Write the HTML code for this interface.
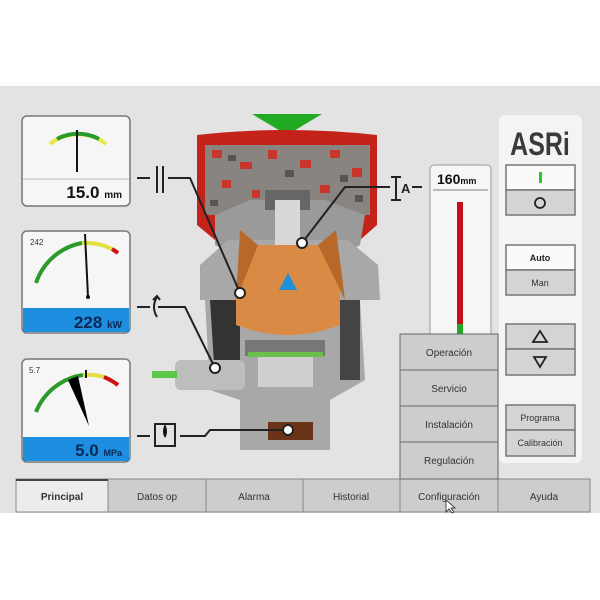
<!DOCTYPE html>
<html><head><meta charset="utf-8"><style>
body{margin:0;background:#fff;width:600px;height:600px;overflow:hidden}
svg{display:block}
text{font-family:"Liberation Sans",sans-serif}
</style></head><body>
<svg width="600" height="600" viewBox="0 0 600 600">
<rect x="0" y="86" width="600" height="427" fill="#e3e3e3"/>
<!-- Gauge 1 -->
<rect x="22" y="116" width="108" height="90" rx="5" fill="#f6f6f6" stroke="#777" stroke-width="1.5"/>
<line x1="23" y1="179" x2="129" y2="179" stroke="#bbb"/>
<path d="M50 144 A45 45 0 0 1 106 144" fill="none" stroke="#e8e84a" stroke-width="4"/>
<path d="M57 139 A45 45 0 0 1 99 139" fill="none" stroke="#2a9a2a" stroke-width="4"/>
<line x1="77" y1="130" x2="77" y2="172" stroke="#111" stroke-width="2"/>
<text x="122" y="198" font-size="17" font-weight="bold" text-anchor="end" fill="#111">15.0 <tspan font-size="10">mm</tspan></text>
<!-- Gauge 2 -->
<rect x="22" y="231" width="108" height="102" rx="5" fill="#f6f6f6" stroke="#777" stroke-width="1.5"/>
<rect x="23" y="308" width="106" height="24" fill="#1e8ee0"/>
<text x="30" y="245" font-size="8" fill="#333">242</text>
<path d="M36 283 A60 60 0 0 1 82 243" fill="none" stroke="#2a9a2a" stroke-width="4"/>
<path d="M82 243 A60 60 0 0 1 112 249" fill="none" stroke="#e0e040" stroke-width="4"/>
<path d="M112 249 A60 60 0 0 1 118 253" fill="none" stroke="#d01010" stroke-width="4"/>
<line x1="85" y1="234" x2="88" y2="297" stroke="#111" stroke-width="2"/>
<circle cx="88" cy="297" r="2" fill="#111"/>
<text x="122" y="328" font-size="17" font-weight="bold" text-anchor="end" fill="#0a2a55">228 <tspan font-size="10">kW</tspan></text>
<!-- Gauge 3 -->
<rect x="22" y="359" width="108" height="103" rx="5" fill="#f6f6f6" stroke="#777" stroke-width="1.5"/>
<rect x="23" y="437" width="106" height="24" fill="#1e8ee0"/>
<text x="29" y="373" font-size="8" fill="#333">5.7</text>
<path d="M36 412 A60 60 0 0 1 83 375" fill="none" stroke="#2a9a2a" stroke-width="4"/>
<path d="M83 375 A60 60 0 0 1 104 377" fill="none" stroke="#e0e040" stroke-width="4"/>
<path d="M104 377 A60 60 0 0 1 118 385" fill="none" stroke="#d01010" stroke-width="4"/>
<polygon points="68,380 78,376 89,426" fill="#000"/>
<line x1="86" y1="370" x2="86" y2="378" stroke="#111" stroke-width="2"/>
<text x="122" y="456" font-size="17" font-weight="bold" text-anchor="end" fill="#0a2a55">5.0 <tspan font-size="9">MPa</tspan></text>
<!-- Crusher -->
<polygon points="252,114 322,114 287,135" fill="#22aa22"/>
<path d="M197 135 Q287 125 377 135 L377 225 L360 240 L215 240 L197 225 Z" fill="#c4231a"/>
<rect x="205" y="145" width="165" height="70" fill="#8a8480"/>
<g fill="#c8352a">
<rect x="212" y="150" width="10" height="8"/><rect x="240" y="162" width="12" height="7"/><rect x="268" y="150" width="9" height="9"/>
<rect x="300" y="160" width="11" height="8"/><rect x="330" y="150" width="10" height="8"/><rect x="352" y="168" width="10" height="9"/>
<rect x="222" y="180" width="9" height="8"/><rect x="320" y="185" width="10" height="8"/><rect x="252" y="190" width="8" height="8"/>
</g>
<g fill="#555"><rect x="228" y="155" width="8" height="6"/><rect x="285" y="170" width="9" height="7"/><rect x="340" y="175" width="8" height="7"/><rect x="210" y="200" width="8" height="6"/><rect x="355" y="195" width="8" height="7"/></g>
<path d="M215 215 L250 200 L325 200 L365 215 L360 245 L325 265 L250 265 L215 245Z" fill="#9a9a9a"/>
<path d="M200 265 L228 240 L348 240 L378 265 L380 300 L360 300 L365 380 L330 400 L330 450 L240 450 L240 400 L210 390 L205 300 L200 300Z" fill="#a8a8a8"/>
<path d="M210 300 L240 300 L240 390 L215 380Z" fill="#333"/>
<path d="M340 300 L360 300 L360 380 L340 380Z" fill="#444"/>
<rect x="265" y="190" width="45" height="20" fill="#666"/>
<rect x="275" y="200" width="25" height="50" fill="#d8d8d8"/>
<path d="M258 245 L318 245 L340 285 L340 325 Q288 345 236 325 L236 285Z" fill="#d98a45"/>
<path d="M240 230 L258 245 L236 300Z" fill="#b8692a"/>
<path d="M318 245 L336 230 L345 300Z" fill="#b8692a"/>
<polygon points="288,273 279,290 297,290" fill="#1e90d8"/>
<rect x="245" y="340" width="80" height="16" fill="#777"/>
<rect x="248" y="352" width="75" height="5" fill="#6ac04a"/>
<rect x="258" y="357" width="55" height="30" fill="#cfcfcf"/>
<rect x="175" y="360" width="70" height="30" rx="6" fill="#bdbdbd"/>
<rect x="152" y="371" width="25" height="7" fill="#5cc84a"/>
<rect x="268" y="422" width="45" height="18" fill="#6b3418"/>
<!-- connectors -->
<g stroke="#222" stroke-width="2" fill="none">
<line x1="137" y1="178" x2="150" y2="178"/><line x1="157" y1="166" x2="157" y2="193"/><line x1="163" y1="166" x2="163" y2="193"/>
<polyline points="240,293 190,178 168,178"/>
<line x1="137" y1="307" x2="150" y2="307"/><path d="M157 297 q-6 10 0 20 M153 300 l4-4 l3 4"/>
<polyline points="158,307 185,307 215,368"/>
<line x1="137" y1="436" x2="150" y2="436"/><rect x="155" y="424" width="20" height="22"/>
<polyline points="180,436 205,436 210,430 285,430"/>
<polyline points="302,243 345,187 390,187"/>
<line x1="396" y1="177" x2="396" y2="200"/><line x1="391" y1="177" x2="401" y2="177"/><line x1="391" y1="200" x2="401" y2="200"/>
<line x1="412" y1="187" x2="422" y2="187"/>
</g>
<path d="M165 424 q-4 8 0 14 q4-6 0-14z" fill="#111"/>
<g fill="#fff" stroke="#222" stroke-width="2">
<circle cx="240" cy="293" r="5"/><circle cx="302" cy="243" r="5"/><circle cx="215" cy="368" r="5"/><circle cx="288" cy="430" r="5"/>
</g>
<text x="401" y="193" font-size="13" font-weight="bold" fill="#222">A</text>
<!-- bar panel -->
<rect x="430" y="165" width="61" height="175" rx="4" fill="#f6f6f6" stroke="#999"/>
<line x1="433" y1="190" x2="488" y2="190" stroke="#bbb" stroke-width="2"/>
<text x="437" y="184" font-size="14" font-weight="bold" fill="#111">160<tspan font-size="9">mm</tspan></text>
<rect x="457" y="202" width="6" height="122" fill="#c4101a"/>
<rect x="457" y="324" width="6" height="10" fill="#22aa22"/>
<!-- ASRi panel -->
<rect x="499" y="115" width="83" height="348" rx="6" fill="#f4f4f4"/>
<text x="540" y="155" font-size="32" font-weight="bold" fill="#3a3a3a" text-anchor="middle" transform="translate(540 0) scale(0.78 1) translate(-540 0)">ASRi</text>
<g stroke="#777" stroke-width="1.5">
<rect x="506" y="165" width="69" height="25" fill="#fafafa"/><rect x="506" y="190" width="69" height="25" fill="#d4d4d4"/>
<rect x="506" y="245" width="69" height="25" fill="#fafafa"/><rect x="506" y="270" width="69" height="25" fill="#d4d4d4"/>
<rect x="506" y="324" width="69" height="25" fill="#d4d4d4"/><rect x="506" y="349" width="69" height="26" fill="#d4d4d4"/>
<rect x="506" y="405" width="69" height="25" fill="#d4d4d4"/><rect x="506" y="430" width="69" height="26" fill="#d4d4d4"/>
</g>
<rect x="539" y="172" width="3" height="11" fill="#22cc22"/>
<circle cx="540" cy="203" r="5" fill="none" stroke="#222" stroke-width="1.8"/>
<text x="540" y="261" font-size="9" font-weight="bold" text-anchor="middle" fill="#222">Auto</text>
<text x="540" y="286" font-size="9" text-anchor="middle" fill="#333">Man</text>
<polygon points="540,331 533,342 547,342" fill="none" stroke="#222" stroke-width="1.8"/>
<polygon points="534,357 546,357 540,367" fill="none" stroke="#222" stroke-width="1.8"/>
<text x="540" y="421" font-size="9" text-anchor="middle" fill="#333">Programa</text>
<text x="540" y="446" font-size="9" text-anchor="middle" fill="#333">Calibración</text>
<!-- tabs -->
<g stroke="#888" stroke-width="1">
<rect x="16" y="479" width="92" height="33" fill="#ececec"/>
<rect x="108" y="479" width="98" height="33" fill="#cdcdcd"/>
<rect x="206" y="479" width="97" height="33" fill="#cdcdcd"/>
<rect x="303" y="479" width="97" height="33" fill="#cdcdcd"/>
<rect x="400" y="479" width="98" height="33" fill="#cdcdcd"/>
<rect x="498" y="479" width="92" height="33" fill="#cdcdcd"/>
</g>
<line x1="16" y1="480" x2="108" y2="480" stroke="#444" stroke-width="2"/>
<g font-size="10" text-anchor="middle" fill="#333">
<text x="62" y="500" font-weight="bold">Principal</text>
<text x="157" y="500">Datos op</text>
<text x="254" y="500">Alarma</text>
<text x="351" y="500">Historial</text>
<text x="449" y="500">Configuración</text>
<text x="544" y="500">Ayuda</text>
</g>
<!-- menu -->
<g stroke="#666" stroke-width="1" fill="#cdcdcd">
<rect x="400" y="334" width="98" height="36"/><rect x="400" y="370" width="98" height="36"/>
<rect x="400" y="406" width="98" height="36"/><rect x="400" y="442" width="98" height="37"/>
</g>
<g font-size="10" text-anchor="middle" fill="#333">
<text x="449" y="356">Operación</text><text x="449" y="392">Servicio</text>
<text x="449" y="428">Instalación</text><text x="449" y="464">Regulación</text>
</g>
<polygon points="446,500 446,512 449,509 452,513 454,512 451,508 455,508" fill="#fff" stroke="#222" stroke-width="0.8"/>
</svg>
</body></html>
